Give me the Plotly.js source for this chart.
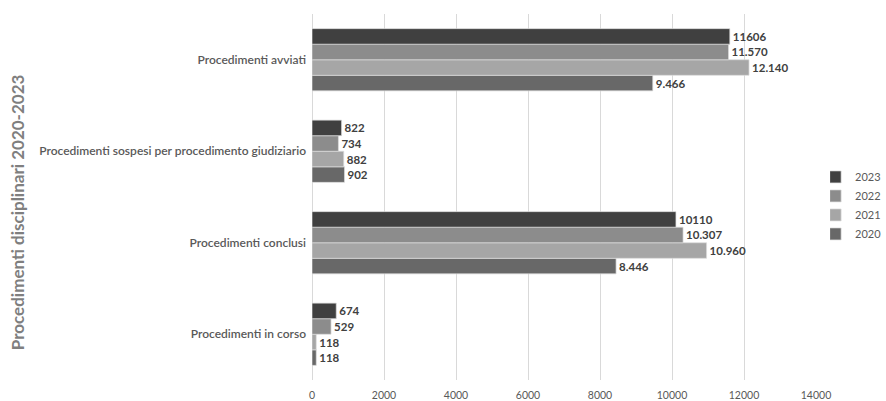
<!DOCTYPE html>
<html>
<head>
<meta charset="utf-8">
<script src="https://cdn.plot.ly/plotly-3.0.1.min.js"></script>
<style>html,body{margin:0;padding:0;background:#fff;}#chart{width:886px;height:401px;}</style>
</head>
<body>
<div id="chart"></div>
<script>
// categories listed bottom to top
const categories = [
  "Procedimenti in corso",
  "Procedimenti conclusi",
  "Procedimenti sospesi per procedimento giudiziario",
  "Procedimenti avviati"
];
const years = ["2020", "2021", "2022", "2023"];
const values2020 = [118, 8446, 902, 9466];
const values2021 = [118, 10960, 882, 12140];
const values2022 = [529, 10307, 734, 11570];
const values2023 = [674, 10110, 822, 11606];
const xTicks = [0, 2000, 4000, 6000, 8000, 10000, 12000, 14000];

const seriesValues = [values2020, values2021, values2022, values2023];
const colors = ["#686868", "#a6a6a6", "#8c8c8c", "#404040"];
const templates = ["%{x:,d}", "%{x:,d}", "%{x:,d}", "%{x:d}"];

const traces = years.map((yr, i) => ({
  type: "bar",
  orientation: "h",
  name: yr,
  y: categories,
  x: seriesValues[i],
  marker: {color: colors[i], line: {color: "rgba(220,220,220,0.7)", width: 1}},
  texttemplate: templates[i],
  textposition: "outside",
  cliponaxis: false,
  textfont: {family: "Lato, 'Liberation Sans', sans-serif", size: 11.5, color: "#404040", weight: "bold"},
  hoverinfo: "skip"
}));

const layout = {
  width: 886,
  height: 401,
  margin: {l: 312, r: 70, t: 14, b: 21, autoexpand: false},
  paper_bgcolor: "#ffffff",
  plot_bgcolor: "#ffffff",
  separators: ",.",
  barmode: "group",
  bargap: 0.32,
  bargroupgap: 0,
  font: {family: "Lato, 'Liberation Sans', sans-serif", color: "#595959"},
  showlegend: true,
  legend: {
    x: 1.028, xanchor: "left", y: 0.477, yanchor: "middle",
    traceorder: "reversed",
    font: {size: 11, color: "#595959"},
    bgcolor: "rgba(0,0,0,0)",
    borderwidth: 0,
    indentation: -15,
    tracegroupgap: 0
  },
  xaxis: {
    range: [0, 14000],
    tickvals: xTicks,
    ticktext: xTicks.map(String),
    showgrid: true,
    gridcolor: "#d9d9d9",
    gridwidth: 1,
    zeroline: true,
    zerolinecolor: "#d9d9d9",
    showline: false,
    ticks: "",
    ticklabelstandoff: 7,
    tickfont: {size: 10.5, color: "#595959"},
    fixedrange: true
  },
  yaxis: {
    type: "category",
    categoryorder: "array",
    categoryarray: categories,
    showgrid: false,
    zeroline: false,
    showline: false,
    ticks: "",
    ticklabelstandoff: 5,
    tickfont: {size: 12, color: "#595959", weight: 600},
    fixedrange: true
  },
  annotations: [{
    text: "Procedimenti disciplinari 2020-2023",
    xref: "paper", yref: "paper",
    x: -0.585, y: 0.459,
    xanchor: "center", yanchor: "middle",
    textangle: -90,
    showarrow: false,
    font: {size: 17, color: "#7f7f7f", weight: "bold"}
  }]
};

Plotly.newPlot("chart", traces, layout, {displayModeBar: false, staticPlot: true});
</script>
</body>
</html>
